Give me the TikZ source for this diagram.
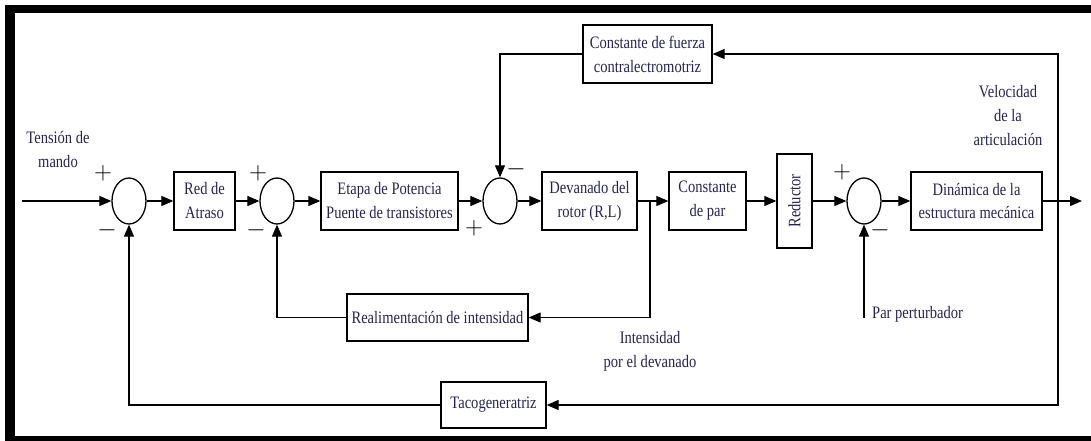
\documentclass[tikz,border=0pt]{standalone}
\usepackage{fontspec}
\setmainfont{Liberation Serif}[FakeStretch=0.83]
\usetikzlibrary{arrows.meta,shapes.geometric}
\definecolor{txt}{RGB}{40,35,80}

\begin{document}
\begin{tikzpicture}[x=1pt,y=-1pt,
	block/.style={shape=rectangle,draw=black,line width=1.3pt,inner sep=0pt,align=center,text=txt,font=\fontsize{17.5}{24}\selectfont},
	sumnode/.style={shape=ellipse,draw=black,line width=1.3pt,minimum width=34pt,minimum height=46pt,inner sep=0pt},
	sgn/.style={inner sep=0pt,font=\fontsize{24}{24}\selectfont},
	lbl/.style={align=center,text=txt,inner sep=0pt,font=\fontsize{17.5}{24}\selectfont},
	flow/.style={-{Triangle[length=12pt,width=10pt]},line width=1.2pt}]
	
	\useasboundingbox (0,0) rectangle (1091,441);
	\fill[black] (5,5) rectangle (1091,13);
	\fill[black] (5,5) rectangle (15,441);
	\fill[black] (5,436) rectangle (1091,441);
	
	% main chain
	\coordinate (in) at (22,201);
	\node[sumnode] (s1) at (129,201) {};
	\node[block,minimum width=61pt,minimum height=58pt] (atraso) at (204.5,201) {Red de\\Atraso};
	\node[sumnode] (s2) at (277,201) {};
	\node[block,minimum width=137pt,minimum height=58pt] (etapa) at (389.5,201) {Etapa de Potencia\\Puente de transistores};
	\node[sumnode] (s3) at (500,201) {};
	\node[block,minimum width=95pt,minimum height=58pt] (devanado) at (589.5,201) {Devanado del\\rotor (R,L)};
	\coordinate (b1) at (650,201);
	\node[block,minimum width=77pt,minimum height=58pt] (par) at (707.5,201) {Constante\\de par};
	\node[block,minimum width=94pt,minimum height=35pt,rotate=90] (reductor) at (794.5,201) {Reductor};
	\node[sumnode] (s4) at (864,201) {};
	\node[block,minimum width=131pt,minimum height=58pt] (dinamica) at (976.5,201) {Dinámica de la\\estructura mecánica};
	\coordinate (b2) at (1058,201);
	\coordinate (out) at (1082,201);
	
	% feedback blocks
	\node[block,minimum width=129pt,minimum height=58pt] (fuerza) at (647.5,54) {Constante de fuerza\\contralectromotriz};
	\node[block,minimum width=181pt,minimum height=47pt] (realim) at (437.5,317.5) {Realimentación de intensidad};
	\node[block,minimum width=105pt,minimum height=46pt] (taco) at (493.5,405) {Tacogeneratriz};
	\coordinate (pert) at (864,318);
	
	% signs
	\node[sgn] (p1) at (103,173) {$+$};
	\node[sgn] (m1) at (107,230) {$-$};
	\node[sgn] (p2) at (258,173) {$+$};
	\node[sgn] (m2) at (256,230) {$-$};
	\node[sgn] (m3) at (516,169) {$-$};
	\node[sgn] (p3) at (474,228) {$+$};
	\node[sgn] (p4) at (842,172) {$+$};
	\node[sgn] (m4) at (880,230) {$-$};
	
	% texts
	\node[lbl] (mando) at (58,150) {Tensión de\\mando};
	\node[lbl] (velocidad) at (1008,116) {Velocidad\\de la\\articulación};
	\node[lbl] (intensidad) at (650,351) {Intensidad\\por el devanado};
	\node[lbl,anchor=west] (perturbador) at (872,314) {Par perturbador};
	
	\draw[flow] (in) -- (s1);
	\draw[flow] (s1) -- (atraso);
	\draw[flow] (atraso) -- (s2);
	\draw[flow] (s2) -- (etapa);
	\draw[flow] (etapa) -- (s3);
	\draw[flow] (s3) -- (devanado);
	\draw[flow] (devanado) -- (par);
	\draw[flow] (par) -- (reductor);
	\draw[flow] (reductor) -- (s4);
	\draw[flow] (s4) -- (dinamica);
	\draw[flow] (dinamica) -- (out);
	
	\draw[flow] (b1) |- (realim);
	\draw[flow] (realim) -| (s2);
	\draw[flow] (b2) |- (fuerza);
	\draw[flow] (fuerza) -| (s3);
	\draw[flow] (b2) |- (taco);
	\draw[flow] (taco) -| (s1);
	\draw[flow] (pert) -- (s4);
	
\end{tikzpicture}
\end{document}
